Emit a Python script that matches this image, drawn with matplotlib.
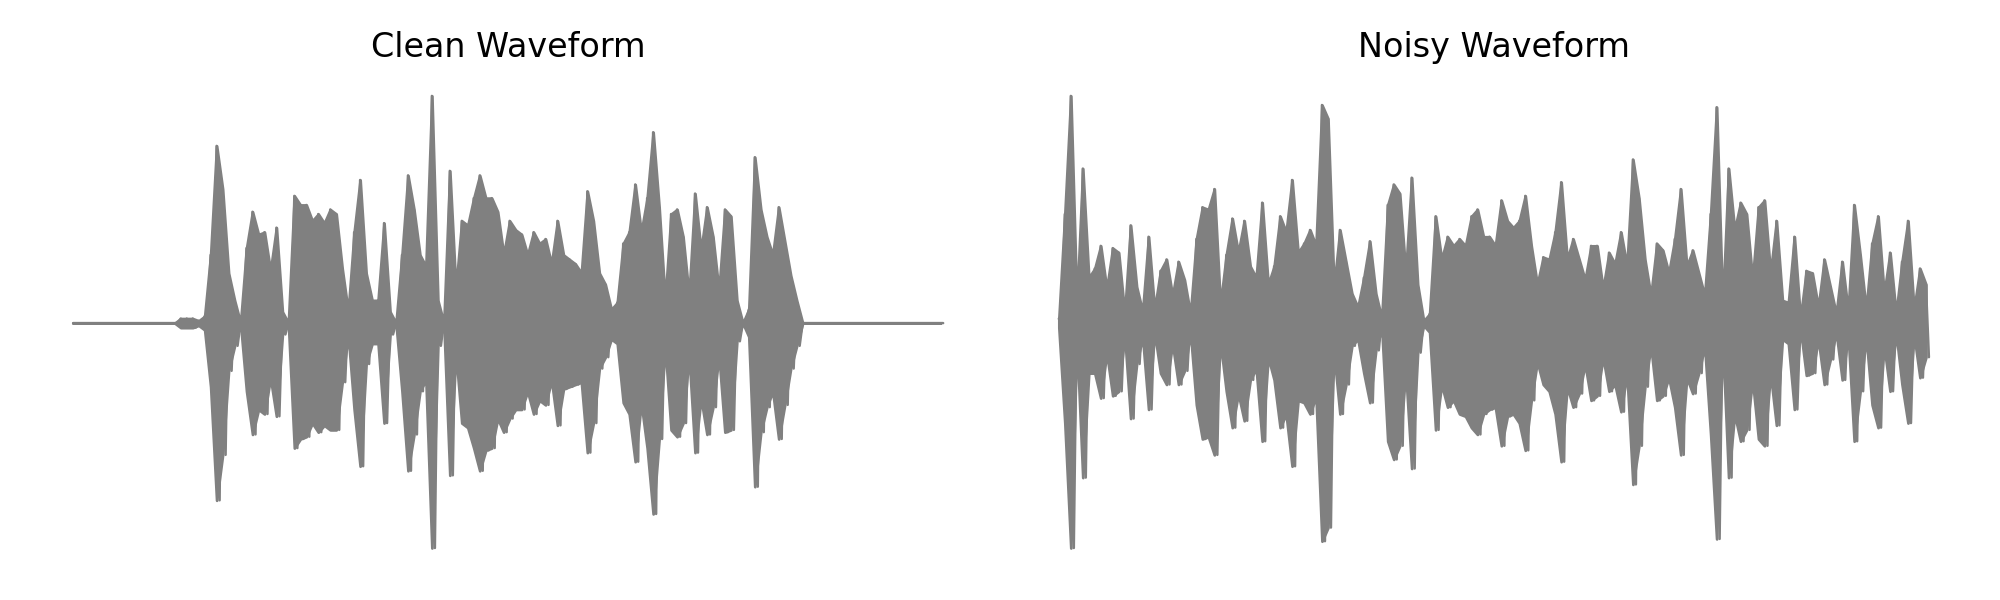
#!/usr/bin/env python3
"""
Clean vs noisy waveform comparison (peak envelope per frame)
"""
import numpy as np
import matplotlib
matplotlib.use("Agg")
import matplotlib.pyplot as plt

plt.rcParams['font.family'] = ['DejaVu Sans']

# per-frame peak values of the clean signal (max / min per frame)
clean_max = [
    0, 0, 0, 0, 0, 0, 0, 0, 0, 0, 0, 0, 0, 0, 0, 0, 0, 0,
    0.02, 0.02, 0.02, 0.01, 0.03, 0.30, 0.78, 0.59, 0.22, 0.10,
    0.0, 0.33, 0.49, 0.39, 0.40, 0.23, 0.42, 0.05, 0.0, 0.56,
    0.52, 0.52, 0.45, 0.48, 0.44, 0.50, 0.48, 0.24, 0.05, 0.40,
    0.63, 0.22, 0.10, 0.10, 0.44, 0.05, 0.0, 0.30, 0.65, 0.50,
    0.30, 0.25, 1.00, 0.10, 0.0, 0.67, 0.15, 0.45, 0.43, 0.55,
    0.65, 0.55, 0.55, 0.49, 0.30, 0.45, 0.41, 0.39, 0.30, 0.40,
    0.35, 0.37, 0.26, 0.45, 0.30, 0.28, 0.26, 0.22, 0.58, 0.45,
    0.22, 0.17, 0.06, 0.09, 0.35, 0.40, 0.61, 0.40, 0.55, 0.84,
    0.51, 0.10, 0.48, 0.50, 0.38, 0.12, 0.57, 0.32, 0.51, 0.38,
    0.14, 0.50, 0.47, 0.10, 0.0, 0.06, 0.73, 0.50, 0.38, 0.30,
    0.51, 0.36, 0.21, 0.10,
    0, 0, 0, 0, 0, 0, 0, 0, 0, 0, 0, 0, 0, 0, 0, 0, 0, 0, 0, 0, 0, 0, 0, 0,
]
clean_min = [
    0, 0, 0, 0, 0, 0, 0, 0, 0, 0, 0, 0, 0, 0, 0, 0, 0, 0,
    -0.02, -0.02, -0.02, -0.01, -0.03, -0.28, -0.78, -0.58, -0.21, -0.10,
    0.0, -0.30, -0.49, -0.38, -0.40, -0.24, -0.41, -0.05, 0.0, -0.55,
    -0.51, -0.50, -0.44, -0.48, -0.45, -0.47, -0.47, -0.26, -0.05, -0.38,
    -0.63, -0.18, -0.09, -0.09, -0.44, -0.05, 0.0, -0.30, -0.65, -0.49,
    -0.30, -0.25, -0.99, -0.10, 0.0, -0.67, -0.13, -0.44, -0.46, -0.55,
    -0.65, -0.56, -0.55, -0.42, -0.48, -0.42, -0.38, -0.38, -0.30, -0.40,
    -0.34, -0.36, -0.25, -0.45, -0.29, -0.28, -0.27, -0.26, -0.57, -0.44,
    -0.20, -0.15, -0.07, -0.09, -0.35, -0.40, -0.61, -0.35, -0.55, -0.84,
    -0.51, -0.10, -0.47, -0.50, -0.44, -0.14, -0.57, -0.33, -0.49, -0.37,
    -0.14, -0.48, -0.47, -0.08, 0.0, -0.06, -0.72, -0.48, -0.37, -0.30,
    -0.51, -0.36, -0.20, -0.10,
    0, 0, 0, 0, 0, 0, 0, 0, 0, 0, 0, 0, 0, 0, 0, 0, 0, 0, 0, 0, 0, 0, 0, 0,
]

# per-frame peak values of the noisy signal
noisy_max = [
    0.02, 0.48, 1.00, 0.08, 0.68, 0.20, 0.24, 0.34, 0.15, 0.33,
    0.31, 0.04, 0.43, 0.16, 0.05, 0.38, 0.06, 0.23, 0.28, 0.12,
    0.27, 0.19, 0.04, 0.37, 0.51, 0.50, 0.59, 0.08, 0.30, 0.46,
    0.31, 0.45, 0.25, 0.20, 0.53, 0.17, 0.25, 0.47, 0.40, 0.63,
    0.31, 0.35, 0.41, 0.34, 0.96, 0.90, 0.16, 0.41, 0.27, 0.13,
    0.07, 0.20, 0.36, 0.13, 0.02, 0.52, 0.61, 0.57, 0.22, 0.64,
    0.17, 0.01, 0.04, 0.47, 0.28, 0.38, 0.34, 0.37, 0.34, 0.47,
    0.50, 0.38, 0.38, 0.34, 0.54, 0.45, 0.42, 0.45, 0.56, 0.34,
    0.17, 0.29, 0.28, 0.40, 0.62, 0.28, 0.37, 0.28, 0.19, 0.34,
    0.34, 0.15, 0.31, 0.26, 0.40, 0.25, 0.72, 0.55, 0.28, 0.12,
    0.35, 0.32, 0.22, 0.37, 0.59, 0.25, 0.32, 0.22, 0.12, 0.48,
    0.95, 0.07, 0.68, 0.41, 0.53, 0.48, 0.19, 0.51, 0.54, 0.22,
    0.45, 0.10, 0.09, 0.38, 0.02, 0.23, 0.22, 0.07, 0.28, 0.16,
    0.04, 0.27, 0.05, 0.52, 0.30, 0.06, 0.35, 0.47, 0.13, 0.31,
    0.04, 0.27, 0.45, 0.06, 0.24, 0.17,
]
noisy_min = [
    -0.02, -0.44, -0.99, -0.07, -0.68, -0.22, -0.22, -0.33, -0.13, -0.32,
    -0.30, -0.05, -0.42, -0.18, -0.06, -0.38, -0.04, -0.22, -0.27, -0.09,
    -0.27, -0.21, -0.04, -0.36, -0.51, -0.50, -0.58, -0.08, -0.30, -0.46,
    -0.31, -0.43, -0.25, -0.20, -0.52, -0.15, -0.25, -0.46, -0.40, -0.63,
    -0.34, -0.35, -0.40, -0.32, -0.96, -0.90, -0.13, -0.40, -0.27, -0.10,
    -0.07, -0.22, -0.35, -0.12, -0.02, -0.52, -0.60, -0.54, -0.21, -0.64,
    -0.13, -0.01, -0.04, -0.47, -0.27, -0.37, -0.34, -0.40, -0.41, -0.46,
    -0.49, -0.40, -0.38, -0.37, -0.54, -0.41, -0.40, -0.44, -0.56, -0.34,
    -0.17, -0.27, -0.30, -0.40, -0.61, -0.28, -0.37, -0.31, -0.18, -0.34,
    -0.32, -0.15, -0.30, -0.27, -0.39, -0.22, -0.71, -0.54, -0.28, -0.10,
    -0.34, -0.32, -0.24, -0.37, -0.58, -0.24, -0.31, -0.22, -0.10, -0.49,
    -0.95, -0.07, -0.68, -0.40, -0.52, -0.47, -0.25, -0.51, -0.54, -0.22,
    -0.45, -0.07, -0.09, -0.38, -0.02, -0.23, -0.22, -0.07, -0.27, -0.16,
    -0.04, -0.25, -0.05, -0.52, -0.30, -0.06, -0.36, -0.46, -0.10, -0.30,
    -0.04, -0.27, -0.44, -0.05, -0.24, -0.15,
]

titles = ['Clean Waveform', 'Noisy Waveform']


def plot_waveform(ax, wave_max, wave_min, title):
    """画波形：帧峰值包络填充 + 峰谷折线，隐藏坐标轴"""
    n = len(wave_max)
    frames = np.arange(n)
    # 包络主体
    ax.fill_between(frames, wave_min, wave_max, color='gray',
                    linewidth=1.0, joinstyle='round', capstyle='round')
    # 峰谷交替的折线，做出竖向细纹
    t = np.empty(2 * n)
    t[0::2] = frames
    t[1::2] = frames + 0.5
    y = np.empty(2 * n)
    y[0::2] = wave_max
    y[1::2] = wave_min
    ax.plot(t, y, color='gray', linewidth=0.9,
            solid_joinstyle='round', solid_capstyle='round')
    ax.set_xlim(-0.05 * (n - 0.5), 1.05 * (n - 0.5))
    ax.set_ylim(-1.1, 1.1)
    ax.set_title(title, fontsize=12)
    ax.axis('off')


def main():
    fig, axes = plt.subplots(1, 2, figsize=(10, 3), dpi=200)
    fig.subplots_adjust(left=0.0148, right=0.9862, bottom=0.045,
                        top=0.878, wspace=0.03)

    plot_waveform(axes[0], clean_max, clean_min, titles[0])
    plot_waveform(axes[1], noisy_max, noisy_min, titles[1])

    fig.savefig('out.png', dpi=200)
    plt.close(fig)


if __name__ == "__main__":
    main()
